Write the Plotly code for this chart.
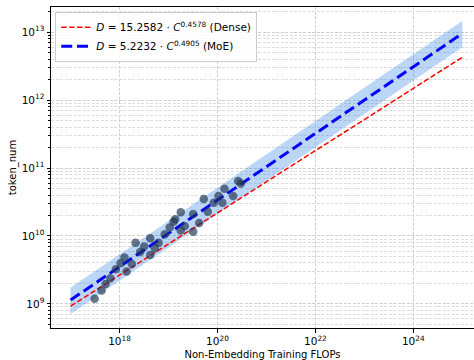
import numpy as np
import plotly.graph_objects as go

# Observed points (FLOPs, tokens)
flops = [3.1e17, 4.3e17, 5.2e17, 6.5e17, 8.4e17, 1.05e18, 1.26e18, 1.39e18, 1.78e18, 2.12e18,
         2.64e18, 3.19e18, 4.23e18, 4.23e18, 5.25e18, 6.3e18, 8.4e18, 1.06e19, 1.27e19, 1.37e19,
         1.78e19, 1.78e19, 2.15e19, 3.19e19, 3.19e19, 4.24e19, 5.25e19, 6.34e19, 8.4e19, 1.05e20,
         1.26e20, 1.39e20, 2.09e20, 2.64e20, 3.0e20]
tokens = [1.19e9, 1.57e9, 1.97e9, 2.39e9, 3.24e9, 3.97e9, 4.8e9, 2.99e9, 3.87e9, 7.96e9,
          5.82e9, 6.97e9, 9.25e9, 5.26e9, 6.6e9, 7.96e9, 1.06e10, 1.33e10, 1.62e10, 1.76e10,
          2.23e10, 1.2e10, 1.4e10, 2.11e10, 1.15e10, 1.55e10, 3.5e10, 2.27e10, 3.09e10, 3.87e10,
          3.09e10, 4.96e10, 3.87e10, 6.45e10, 5.9e10]

# Fit parameters
dense_a, dense_b = 15.2582, 0.4578
moe_a, moe_b = 5.2232, 0.4905
band_up, band_down = 1.52, 0.625
fit_range = [1e17, 1e25]

xs = np.logspace(np.log10(fit_range[0]), np.log10(fit_range[1]), 100)
dense_y = dense_a * xs ** dense_b
moe_y = moe_a * xs ** moe_b

fig = go.Figure()
fig.add_trace(go.Scatter(x=np.concatenate([xs, xs[::-1]]),
                         y=np.concatenate([moe_y * band_up, (moe_y * band_down)[::-1]]),
                         fill="toself", fillcolor="rgba(30,120,230,0.30)",
                         line=dict(width=0), hoverinfo="skip", showlegend=False))
fig.add_trace(go.Scatter(x=xs, y=dense_y, mode="lines",
                         line=dict(color="red", width=1.5, dash="5.5px,2.4px"),
                         name="<i>D</i> = 15.2582 · <i>C</i><sup>0.4578</sup> (Dense)"))
fig.add_trace(go.Scatter(x=xs, y=moe_y, mode="lines",
                         line=dict(color="blue", width=3, dash="11px,4.8px"),
                         name="<i>D</i> = 5.2232 · <i>C</i><sup>0.4905</sup> (MoE)"))
fig.add_trace(go.Scatter(x=flops, y=tokens, mode="markers",
                         marker=dict(color="rgba(35,55,80,0.68)", size=8.5, line=dict(width=0)),
                         showlegend=False))

xt = [1e18, 1e20, 1e22, 1e24]
yt = [1e9, 1e10, 1e11, 1e12, 1e13]
yminor = [k * 10.0 ** n for n in range(8, 14) for k in range(2, 10)]

fig.update_layout(
    width=474, height=360,
    margin=dict(l=51, r=0, t=7, b=32),
    paper_bgcolor="white", plot_bgcolor="white",
    font=dict(family="DejaVu Sans", size=10, color="black"),
    legend=dict(x=0.01, y=0.985, xanchor="left", yanchor="top",
                bgcolor="rgba(255,255,255,0.85)", bordercolor="#cccccc", borderwidth=1,
                font=dict(size=10.5), tracegroupgap=0, itemwidth=30),
)
fig.update_xaxes(type="log", range=[16.6, 25.24],
                 tickvals=xt, ticktext=["10<sup>18</sup>", "10<sup>20</sup>", "10<sup>22</sup>", "10<sup>24</sup>"],
                 ticks="outside", ticklen=3.5, tickcolor="black",
                 showline=True, linecolor="black", linewidth=1, mirror=True,
                 showgrid=True, gridcolor="#d0d0d0", griddash="3px,1.5px", gridwidth=0.8,
                 zeroline=False, tickfont=dict(size=10.5),
                 title=dict(text="Non-Embedding Training FLOPs", standoff=4, font=dict(size=10)))
fig.update_yaxes(type="log", range=[8.645, 13.37],
                 tickvals=yt, ticktext=["10<sup>9</sup>", "10<sup>10</sup>", "10<sup>11</sup>", "10<sup>12</sup>", "10<sup>13</sup>"],
                 ticks="outside", ticklen=3.5, tickcolor="black",
                 showline=True, linecolor="black", linewidth=1,
                 showgrid=True, gridcolor="#d0d0d0", griddash="3px,1.5px", gridwidth=0.8,
                 minor=dict(tickmode="array", tickvals=yminor, ticks="outside", ticklen=2,
                            tickcolor="black", showgrid=True, gridcolor="#dddddd",
                            griddash="3px,1.5px", gridwidth=0.6),
                 zeroline=False, tickfont=dict(size=10.5),
                 title=dict(text="token_num", standoff=3, font=dict(size=10)))

fig.write_html("out.html")
